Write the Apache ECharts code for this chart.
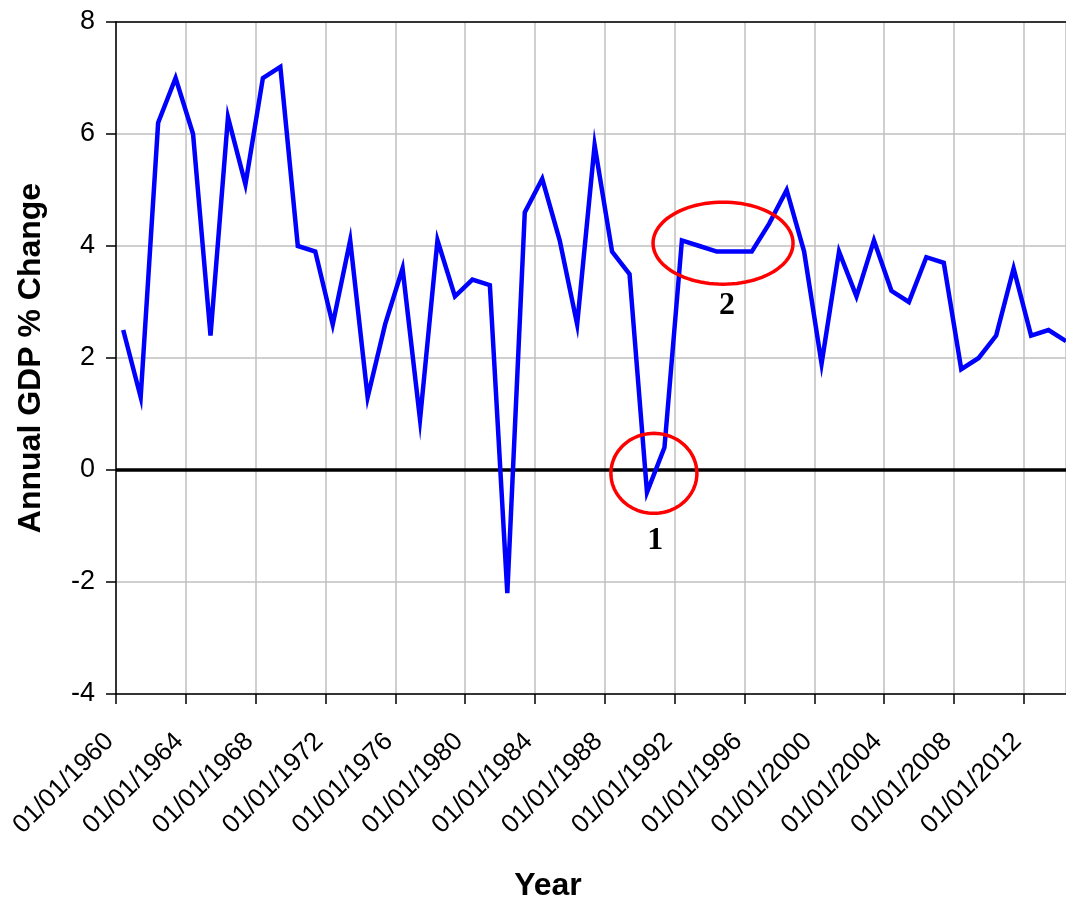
<!DOCTYPE html>
<html>
<head>
<meta charset="utf-8">
<script src="https://cdn.jsdelivr.net/npm/echarts@6/dist/echarts.min.js"></script>
<style>
  html, body { margin: 0; padding: 0; background: #ffffff; }
  #chart { width: 1066px; height: 900px; }
</style>
</head>
<body>
<div id="chart"></div>
<script>
// ---- data ----
const years = [1960, 1961, 1962, 1963, 1964, 1965, 1966, 1967, 1968, 1969,
               1970, 1971, 1972, 1973, 1974, 1975, 1976, 1977, 1978, 1979,
               1980, 1981, 1982, 1983, 1984, 1985, 1986, 1987, 1988, 1989,
               1990, 1991, 1992, 1993, 1994, 1995, 1996, 1997, 1998, 1999,
               2000, 2001, 2002, 2003, 2004, 2005, 2006, 2007, 2008, 2009,
               2010, 2011, 2012, 2013, 2014];
const gdpChange = [2.5, 1.3, 6.2, 7.0, 6.0, 2.4, 6.3, 5.1, 7.0, 7.2,
                   4.0, 3.9, 2.6, 4.1, 1.3, 2.6, 3.6, 0.9, 4.1, 3.1,
                   3.4, 3.3, -2.2, 4.6, 5.2, 4.1, 2.6, 5.8, 3.9, 3.5,
                   -0.4, 0.4, 4.1, 4.0, 3.9, 3.9, 3.9, 4.4, 5.0, 3.9,
                   1.9, 3.9, 3.1, 4.1, 3.2, 3.0, 3.8, 3.7, 1.8, 2.0,
                   2.4, 3.6, 2.4, 2.5, 2.3];
const yTicks = [-4, -2, 0, 2, 4, 6, 8];
const xTickYears = [1960, 1964, 1968, 1972, 1976, 1980, 1984, 1988, 1992, 1996, 2000, 2004, 2008, 2012];
// annotations: circled regions (data coords) and their numbers
const annoLabels = ['1', '2'];
const annoCenters = [[1990.81, -0.06], [1994.77, 4.05]];
const annoLabelPos = [[1990.89, -1.27], [1995.0, 2.93]];
const annoRadii = [[43, 40], [70, 41]];   // pixel radii

// observations dated 1 June of each year
const dayFrac = 151 / 365;
const xMin = years[0];
const xMax = years[years.length - 1] + dayFrac;
const points = years.map((y, i) => [y + dayFrac, gdpChange[i]]);

const FONT = '"Liberation Sans", Arial, Helvetica, sans-serif';

const chart = echarts.init(document.getElementById('chart'), null, { renderer: 'canvas' });

chart.setOption({
  animation: false,
  backgroundColor: '#ffffff',
  grid: { left: 116, right: 0, top: 22, bottom: 206, containLabel: false, outerBoundsMode: 'none' },
  xAxis: [{
    type: 'value',
    position: 'bottom',
    min: xMin, max: xMax, interval: 4,
    name: 'Year',
    nameLocation: 'middle',
    nameGap: 176,
    nameTextStyle: { fontFamily: FONT, fontSize: 32, fontWeight: 'bold', color: '#000', padding: [0, 86, 0, 0] },
    axisLine: { show: true, onZero: false, lineStyle: { color: '#000', width: 1.5 } },
    axisTick: { show: true, inside: false, length: 10, lineStyle: { color: '#000', width: 1.5 } },
    axisLabel: {
      rotate: 45, margin: 37, fontFamily: FONT, fontSize: 26, color: '#000',
      padding: [0, 9, 0, 0],
      showMaxLabel: false,
      formatter: function (v) {
        return xTickYears.indexOf(Math.round(v)) >= 0 && Math.abs(v - Math.round(v)) < 1e-6 ? '01/01/' + Math.round(v) : '';
      }
    },
    splitLine: { show: true, lineStyle: { color: '#c0c0c0', width: 1.5 } }
  }, {
    type: 'value',
    position: 'top',
    min: xMin, max: xMax,
    axisLine: { show: true, onZero: false, lineStyle: { color: '#000', width: 1.5 } },
    axisTick: { show: false }, axisLabel: { show: false }, splitLine: { show: false }
  }],
  yAxis: {
    type: 'value',
    min: yTicks[0], max: yTicks[yTicks.length - 1], interval: 2,
    name: 'Annual GDP % Change',
    nameLocation: 'middle',
    nameGap: 69,
    nameTextStyle: { fontFamily: FONT, fontSize: 32, fontWeight: 'bold', color: '#000' },
    axisLine: { show: true, onZero: false, lineStyle: { color: '#000', width: 1.5 } },
    axisTick: { show: true, inside: false, length: 10, lineStyle: { color: '#000', width: 1.5 } },
    axisLabel: { margin: 21, fontFamily: FONT, fontSize: 27, color: '#000' },
    splitLine: { show: true, lineStyle: { color: '#c0c0c0', width: 1.5 } }
  },
  series: [{
    name: 'zero',
    type: 'line',
    xAxisIndex: 0,
    data: [[xMin, 0], [xMax, 0]],
    showSymbol: false,
    silent: true,
    z: 1,
    lineStyle: { color: '#000', width: 3.5 }
  }, {
    name: 'GDP',
    type: 'line',
    xAxisIndex: 0,
    data: points,
    showSymbol: false,
    z: 3,
    lineStyle: { color: '#0000ff', width: 4.5, join: 'miter' }
  }]
});

// annotation ellipses and numbers positioned via the chart's own scales
function ellipsePoints(cx, cy, rx, ry) {
  const pts = [];
  for (let k = 0; k < 96; k++) {
    const t = (k / 96) * Math.PI * 2;
    pts.push([cx + rx * Math.cos(t), cy + ry * Math.sin(t)]);
  }
  return pts;
}
const graphics = [];
annoCenters.forEach((c, i) => {
  const p = chart.convertToPixel({ gridIndex: 0 }, c);
  graphics.push({
    type: 'polygon', z: 100, silent: true,
    shape: { points: ellipsePoints(p[0], p[1], annoRadii[i][0], annoRadii[i][1]) },
    style: { fill: 'none', stroke: '#ff0000', lineWidth: 3.5 }
  });
  const lp = chart.convertToPixel({ gridIndex: 0 }, annoLabelPos[i]);
  graphics.push({
    type: 'text', z: 100, silent: true,
    x: lp[0], y: lp[1],
    style: {
      text: annoLabels[i], fill: '#000',
      font: 'bold 32px "Liberation Serif", "Times New Roman", serif',
      align: 'center', verticalAlign: 'middle'
    }
  });
});
chart.setOption({ graphic: graphics });
</script>
</body>
</html>
